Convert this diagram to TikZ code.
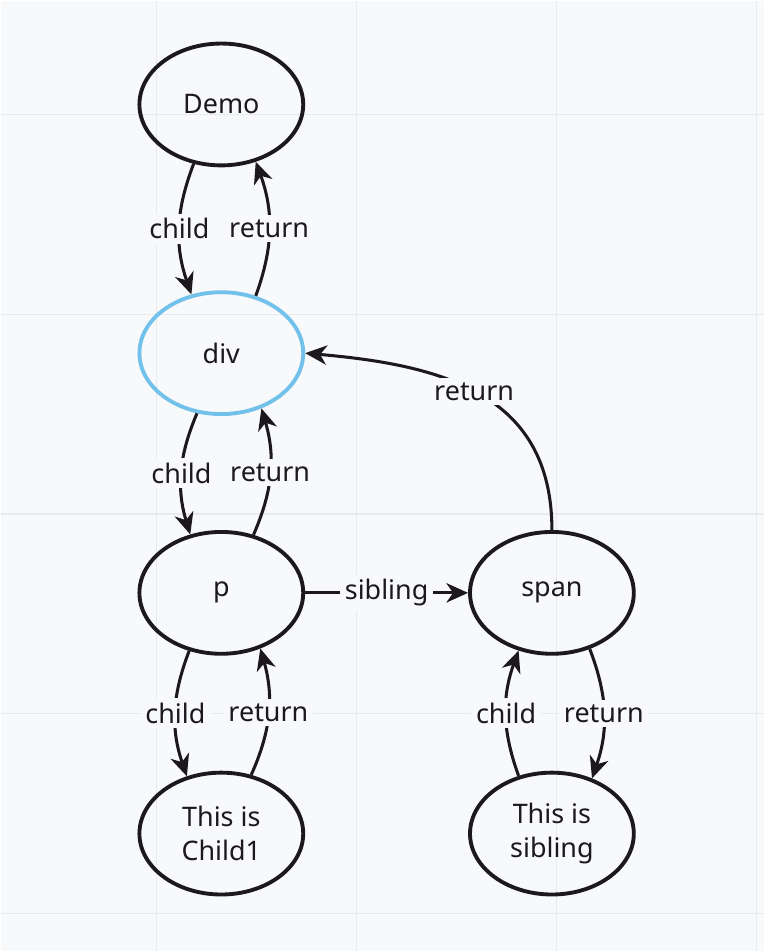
\documentclass[tikz,border=0pt]{standalone}
\usepackage{fontspec}
\setmainfont{Noto Sans}
\usetikzlibrary{shapes.geometric,positioning,arrows.meta}

\definecolor{paper}{HTML}{F8F9FB}
\definecolor{rule}{HTML}{E8EAED}
\definecolor{ink}{HTML}{1D181C}
\definecolor{focus}{HTML}{72C1EB}

\begin{document}
\begin{tikzpicture}[x=0.3mm,y=0.3mm,on grid,node distance=7.2cm,
  font=\fontsize{23}{29}\selectfont,
  fiber/.style={ellipse,draw=ink,line width=3.3pt,minimum width=4.92cm,
    minimum height=3.66cm,align=center,text=ink},
  link/.style={draw=ink,line width=2.6pt,
    -{Stealth[length=6.5mm,width=5.8mm,inset=2mm]}},
  tag/.style={fill=paper,inner sep=4pt,text=ink}]

  \fill[paper] (0,0) rectangle (764,-952);
  \foreach \gx in {156,356,557,757}
    \draw[rule,line width=1pt] (\gx,0) -- (\gx,-952);
  \foreach \gy in {114,314,514,714,914}
    \draw[rule,line width=1pt] (0,-\gy) -- (764,-\gy);

  \node[fiber] (demo) at (221,-104) {Demo};
  \node[fiber,draw=focus] (div) [below=7.47cm of demo] {div};
  \node[fiber] (p) [below=7.2cm of div] {p};
  \node[fiber] (child1) [below=7.23cm of p] {This is\\Child1};
  \node[fiber] (span) [right=9.93cm of p] {span};
  \node[fiber] (sibling) [below=7.23cm of span] {This is\\sibling};

  \draw[link] (demo.245) to[bend right=20] node[tag] {child} (div.117);
  \draw[link] (div.59) to[bend right=20] node[tag] {return} (demo.301);
  \draw[link] (div.248) to[bend right=20] node[tag] {child} (p.118);
  \draw[link] (p.61) to[bend right=20] node[tag] {return} (div.306);
  \draw[link] (p.241) to[bend right=20] node[tag] {child} (child1.121);
  \draw[link] (child1.63) to[bend right=20] node[tag] {return} (p.305);

  \draw[link] (p) -- node[tag] {sibling} (span);
  \draw[link] (sibling.120) to[bend left=20] node[tag] {child} (span.240);
  \draw[link] (span.304) to[bend left=20] node[tag] {return} (sibling.54);
  \draw[link] (span.north) to[out=90,in=-5,looseness=1.15]
    node[tag,pos=0.52] {return} (div.east);

\end{tikzpicture}
\end{document}
